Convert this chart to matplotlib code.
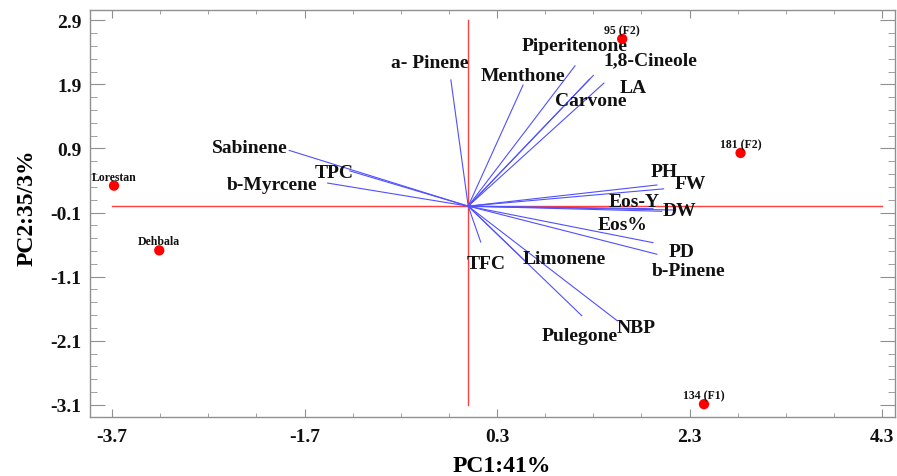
import numpy as np
import matplotlib
matplotlib.use("Agg")
import matplotlib.pyplot as plt
from matplotlib.ticker import FixedLocator

plt.rcParams['font.family'] = ['Liberation Serif', 'DejaVu Serif']
plt.rcParams['font.weight'] = 'bold'

# variable loadings (end points of the blue vectors)
var_names = ['a- Pinene', 'Menthone', 'Piperitenone', '1,8-Cineole', 'Carvone', 'LA',
             'Sabinene', 'TPC', 'b-Myrcene',
             'PH', 'FW', 'Eos-Y', 'DW', 'Eos%', 'PD', 'b-Pinene',
             'TFC', 'Limonene', 'Pulegone', 'NBP']
var_x = [-0.18, 0.57, 1.11, 1.30, 1.26, 1.41,
         -1.86, -1.23, -1.46,
         1.96, 2.03, 1.92, 2.13, 2.01, 1.92, 1.96,
         0.13, 0.60, 1.18, 1.55]
var_y = [1.97, 1.89, 2.19, 2.04, 1.98, 1.92,
         0.87, 0.55, 0.36,
         0.33, 0.27, -0.04, -0.06, -0.08, -0.57, -0.75,
         -0.56, -0.87, -1.71, -1.79]
# label positions of the variables
lab_x = [-0.40, 0.57, 1.11, 1.89, 1.27, 1.71,
         -2.27, -1.39, -2.04,
         2.04, 2.31, 1.72, 2.19, 1.60, 2.22, 2.29,
         0.19, 1.00, 1.16, 1.75]
lab_y = [2.24, 2.04, 2.51, 2.29, 1.65, 1.85,
         0.91, 0.52, 0.34,
         0.54, 0.35, 0.07, -0.07, -0.29, -0.70, -1.01,
         -0.90, -0.82, -2.02, -1.90]

# samples (red points)
obs_names = ['95 (F2)', '181 (F2)', 'Lorestan', 'Dehbala', '134 (F1)']
obs_x = [1.60, 2.83, -3.68, -3.21, 2.45]
obs_y = [2.61, 0.83, 0.32, -0.69, -3.09]

xticks = [-3.7, -1.7, 0.3, 2.3, 4.3]
yticks = [-3.1, -2.1, -1.1, -0.1, 0.9, 1.9, 2.9]

fig = plt.figure(figsize=(8.97, 4.77), dpi=100)
ax = fig.add_axes([0.1003, 0.1243, 0.8975, 0.8533])

# red axis lines through the origin
ax.plot([-3.7, 4.3], [0, 0], color='#ff4040', lw=1.0, zorder=1)
ax.plot([0, 0], [-3.1, 2.9], color='#ff4040', lw=1.0, zorder=1)

# vectors
for vx, vy in zip(var_x, var_y):
    ax.plot([0, vx], [0, vy], color='#5050ff', lw=0.8, zorder=2)
for name, lx, ly in zip(var_names, lab_x, lab_y):
    ax.text(lx, ly, name, fontsize=14, ha='center', va='center', color='#111111')

# points
ax.scatter(obs_x, obs_y, s=55, color='#ff0000', edgecolor='none', zorder=3)
for name, ox, oy in zip(obs_names, obs_x, obs_y):
    ax.text(ox, oy + 0.14, name, fontsize=8.5, ha='center', va='center', color='#111111')

ax.set_xlim(-3.93, 4.435)
ax.set_ylim(-3.286, 3.066)

ax.xaxis.set_major_locator(FixedLocator(xticks))
ax.xaxis.set_minor_locator(FixedLocator(np.arange(-3.7, 4.31, 0.5)))
ax.yaxis.set_major_locator(FixedLocator(yticks))
ax.yaxis.set_minor_locator(FixedLocator(np.arange(-3.1, 3.0, 0.2)))
ax.set_xticklabels(['%.1f' % v for v in xticks])
ax.set_yticklabels(['%.1f' % v for v in yticks])

for s in ax.spines.values():
    s.set_color('#909090')
    s.set_linewidth(1.0)
ax.tick_params(axis='both', which='both', direction='in', colors='#909090',
               top=True, right=True, labelcolor='#111111', labelsize=14)
ax.tick_params(axis='x', which='major', length=5.5, pad=8)
ax.tick_params(axis='x', which='minor', length=3)
ax.tick_params(axis='y', which='major', length=10.8, pad=6)
ax.tick_params(axis='y', which='minor', length=5)

ax.set_xlabel('PC1:41%', fontsize=17, fontweight='bold', va='center')
ax.set_ylabel('PC2:35/3%', fontsize=17, fontweight='bold', va='center')
ax.xaxis.set_label_coords(0.512, -0.121)
ax.yaxis.set_label_coords(-0.078, 0.515)

plt.savefig('out.png', dpi=100)
